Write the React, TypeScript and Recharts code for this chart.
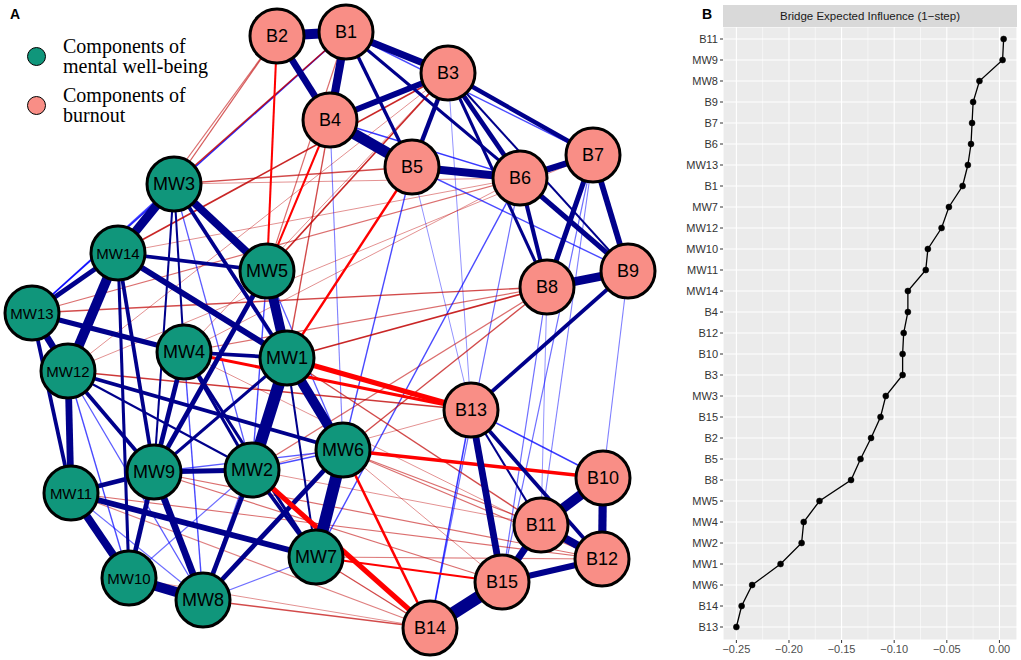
import React from 'react';
import {
  ComposedChart, Scatter, XAxis, YAxis, ReferenceLine, LineChart, Line, CartesianGrid,
} from 'recharts';

// ---------- Panel A: network layout (node coordinates from the layout) ----------
const nodeNames = ['B1','B2','B3','B4','B5','B6','B7','B8','B9','B10','B11','B12','B13','B14','B15',
  'MW1','MW2','MW3','MW4','MW5','MW6','MW7','MW8','MW9','MW10','MW11','MW12','MW13','MW14'];
const nodeLayoutX = [346,277,448,330,412,520,593,547,628,603,541,602,471,430,502,
  287,252,174,184,267,343,316,203,154,129,71,68,32,118];
const nodeLayoutY = [32,36,73,120,167,178,155,287,271,478,525,559,410,628,582,
  358,470,184,352,271,450,557,600,472,578,493,371,313,253];
const nodeGroup = nodeNames.map((n) => (n.startsWith('MW') ? 'wellbeing' : 'burnout'));

const edgeFrom = [
  'B1','B1','B2','B1','B1','B1','B1','B3','B3','B3','B3','B3','B3','B4','B4','B5','B5','B6','B6','B6','B7','B7','B8','B9',
  'B13','B13','B13','B13','B13','B10','B10','B11','B11','B12','B14','B3','B7','B7','B9','B8','B8','B6','B5',
  'MW3','MW3','MW3','MW3','MW3','MW3','MW3','MW3','MW14','MW14','MW14','MW14','MW14','MW14','MW13','MW13','MW13',
  'MW12','MW12','MW12','MW12','MW12','MW12','MW5','MW5','MW5','MW5','MW4','MW4','MW4','MW4','MW4','MW4',
  'MW1','MW1','MW1','MW1','MW1','MW6','MW6','MW6','MW6','MW2','MW2','MW2','MW9','MW9','MW9','MW11','MW11','MW10',
  'MW7','MW10','MW11',
  'MW13','B5','B6','B4',
  'MW1','MW4','MW12','MW6','MW2','MW6','MW7','MW5','MW1','MW3','MW14','MW3','MW14','MW3','MW5','MW5','MW5','MW1',
  'MW1','MW6','MW2','MW4','MW13','MW13','MW12','MW4','MW1','MW9','MW9','MW11','MW11','MW10','MW8','MW7','MW7','MW6',
  'MW6','MW2','MW4','MW6','MW3','MW14','MW4','MW12','MW2',
];
const edgeTo = [
  'B2','B4','B4','B3','B5','B6','B7','B4','B5','B6','B7','B8','B9','B5','B6','B6','B9','B7','B8','B9','B8','B9','B9','B13',
  'B15','B11','B12','B10','B14','B11','B12','B12','B15','B15','B15','B13','B11','B15','B10','B15','B11','B14','B13',
  'MW14','MW5','MW1','MW4','MW9','MW2','MW6','MW13','MW13','MW12','MW5','MW1','MW9','MW10','MW12','MW4','MW11',
  'MW11','MW9','MW6','MW2','MW10','MW8','MW1','MW9','MW2','MW6','MW1','MW9','MW2','MW7','MW10','MW8',
  'MW2','MW6','MW9','MW7','MW8','MW7','MW8','MW2','MW9','MW9','MW7','MW8','MW10','MW8','MW11','MW10','MW7','MW8',
  'MW8','MW2','MW8',
  'B1','MW6','MW7','MW6',
  'B13','B13','B13','B10','B14','B14','B15','B2','B5','B2','B2','B1','B3','B5','B3','B1','B4','B4',
  'B8','B8','B8','B8','B8','B6','B7','B6','B11','B15','B12','B14','B12','B14','B14','B12','B14','B12',
  'B11','B11','B12','B15','B6','B6','B3','B3','B13',
];
const edgeWeight = [
  0.29,0.24,0.20,0.20,0.10,0.09,0.04,0.17,0.13,0.14,0.13,0.09,0.06,0.32,0.045,0.23,0.04,0.18,0.12,0.15,0.15,0.17,0.26,0.11,
  0.20,0.06,0.11,0.045,0.045,0.29,0.24,0.23,0.21,0.18,0.37,0.02,0.025,0.03,0.025,0.03,0.02,0.03,0.02,
  0.26,0.23,0.11,0.06,0.06,0.035,0.03,0.04,0.14,0.29,0.11,0.17,0.11,0.09,0.20,0.15,0.11,
  0.20,0.11,0.11,0.06,0.04,0.035,0.29,0.14,0.04,0.035,0.11,0.14,0.09,0.09,0.04,0.04,
  0.35,0.29,0.09,0.06,0.03,0.35,0.14,0.04,0.035,0.14,0.11,0.14,0.14,0.20,0.14,0.23,0.17,0.29,
  0.03,0.03,0.03,
  0.05,0.04,0.04,0.025,
  -0.15,-0.09,-0.045,-0.10,-0.15,-0.075,-0.06,-0.06,-0.07,-0.035,-0.03,-0.05,-0.05,-0.04,-0.05,-0.03,-0.06,-0.04,
  -0.05,-0.04,-0.03,-0.03,-0.04,-0.03,-0.02,-0.02,-0.04,-0.03,-0.03,-0.025,-0.03,-0.02,-0.04,-0.025,-0.04,-0.03,
  -0.03,-0.02,-0.02,-0.02,-0.02,-0.02,-0.02,-0.02,-0.02,
];

// ---------- Panel B: bridge expected influence ----------
const bridgeNodes = ['B11','MW9','MW8','B9','B7','B6','MW13','B1','MW7','MW12','MW10','MW11','MW14','B4',
  'B12','B10','B3','MW3','B15','B2','B5','B8','MW5','MW4','MW2','MW1','MW6','B14','B13'];
const bridgeValues = [0.004,0.003,-0.019,-0.025,-0.026,-0.027,-0.030,-0.035,-0.048,-0.055,-0.068,-0.070,-0.087,-0.087,
  -0.091,-0.092,-0.092,-0.108,-0.113,-0.122,-0.132,-0.141,-0.171,-0.186,-0.188,-0.208,-0.235,-0.245,-0.250];
const xTicks = [-0.25, -0.2, -0.15, -0.1, -0.05, 0];
const xMinor = [-0.225, -0.175, -0.125, -0.075, -0.025];

const COLORS = { wellbeing: '#10967B', burnout: '#F98E86' };
const SANS = '"Liberation Sans", Arial, Helvetica, sans-serif';
const SERIF = '"Liberation Serif", "Times New Roman", serif';

const nodes = nodeNames.map((n, i) => ({ name: n, x: nodeLayoutX[i], y: nodeLayoutY[i], group: nodeGroup[i] }));
const nodeIndex: Record<string, number> = {};
nodeNames.forEach((n, i) => { nodeIndex[n] = i; });

const edges = edgeFrom
  .map((f, i) => ({ from: f, to: edgeTo[i], w: edgeWeight[i] }))
  .sort((a, b) => Math.abs(a.w) - Math.abs(b.w));

function edgeStyle(w: number) {
  const a = Math.abs(w);
  if (a >= 0.06) {
    return { stroke: w > 0 ? '#00008B' : '#FF0000', width: a * 34, opacity: 1 };
  }
  return { stroke: w > 0 ? '#0000FF' : '#BF0000', width: 0.6 + a * 20, opacity: Math.min(1, 0.15 + a * 14) };
}

const NodeShape = (props: any) => {
  const { cx, cy, payload } = props;
  if (cx == null || cy == null) return <g />;
  const label: string = payload.name;
  const fs = label.length >= 4 ? 15 : 18;
  return (
    <g>
      <circle cx={cx} cy={cy} r={27} fill={COLORS[payload.group as 'wellbeing' | 'burnout']} stroke="#000" strokeWidth={3} />
      <text x={cx} y={cy} textAnchor="middle" dominantBaseline="central" fontSize={fs} fontFamily={SANS} fill="#000">{label}</text>
    </g>
  );
};

function NetworkPanel() {
  return (
    <ComposedChart width={690} height={660} margin={{ top: 0, right: 0, bottom: 0, left: 0 }} data={nodes}>
      <XAxis type="number" dataKey="x" domain={[0, 690]} hide allowDataOverflow />
      <YAxis type="number" dataKey="y" domain={[0, 660]} reversed hide allowDataOverflow />
      {edges.map((e, i) => {
        const s = edgeStyle(e.w);
        const a = nodes[nodeIndex[e.from]];
        const b = nodes[nodeIndex[e.to]];
        return (
          <ReferenceLine
            key={'e' + i}
            segment={[{ x: a.x, y: a.y }, { x: b.x, y: b.y }]}
            stroke={s.stroke}
            strokeWidth={s.width}
            strokeOpacity={s.opacity}
            ifOverflow="visible"
          />
        );
      })}
      <Scatter data={nodes} dataKey="y" shape={NodeShape} isAnimationActive={false} />
    </ComposedChart>
  );
}

function BridgePanel() {
  const data = bridgeNodes.map((n, i) => ({ node: n, value: bridgeValues[i] }));
  return (
    <LineChart layout="vertical" width={341} height={660} data={data} margin={{ top: 27, right: 4, bottom: 0, left: 0 }}>
      <CartesianGrid fill="#EBEBEB" stroke="#FFFFFF" strokeWidth={1.1} />
      {xMinor.map((v) => (
        <ReferenceLine key={'m' + v} x={v} stroke="#FFFFFF" strokeWidth={0.55} />
      ))}
      <XAxis
        type="number"
        dataKey="value"
        domain={[-0.2627, 0.0167]}
        ticks={xTicks}
        allowDataOverflow
        height={20}
        tickSize={3}
        axisLine={false}
        tickLine={{ stroke: '#333333' }}
        tick={{ fontSize: 11, fill: '#4D4D4D', fontFamily: SANS }}
        tickFormatter={(v: number) => (v < 0 ? '\u2212' + Math.abs(v).toFixed(2) : v.toFixed(2))}
      />
      <YAxis
        type="category"
        dataKey="node"
        width={43}
        tickSize={3}
        interval={0}
        padding={{ top: 12, bottom: 13 }}
        axisLine={false}
        tickLine={{ stroke: '#333333' }}
        tick={{ fontSize: 11, fill: '#333333', fontFamily: SANS }}
      />
      <Line
        dataKey="value"
        stroke="#000000"
        strokeWidth={1.3}
        dot={{ r: 3, fill: '#000000', stroke: '#000000', strokeWidth: 0.5 }}
        isAnimationActive={false}
      />
    </LineChart>
  );
}

const legendLine = (top: number, text: string) => (
  <div style={{ position: 'absolute', left: 63, top, fontFamily: SERIF, fontSize: 20, lineHeight: '20px', height: 20, color: '#000', whiteSpace: 'nowrap' }}>
    {text}
  </div>
);

export default function App() {
  return (
    <div style={{ position: 'absolute', left: 0, top: 0, width: 1021, height: 660, background: '#fff', overflow: 'hidden' }}>
      <div style={{ position: 'absolute', left: 0, top: 0 }}>
        <NetworkPanel />
      </div>
      <div style={{ position: 'absolute', left: 680, top: 0 }}>
        <BridgePanel />
      </div>
      {/* facet strip */}
      <div style={{ position: 'absolute', left: 723, top: 5, width: 294, height: 22, background: '#D9D9D9',
        fontFamily: SANS, fontSize: 11.5, color: '#1A1A1A', textAlign: 'center', lineHeight: '22px' }}>
        Bridge Expected Influence (1{'\u2212'}step)
      </div>
      {/* panel letters */}
      <div style={{ position: 'absolute', left: 10, top: 6, fontFamily: SANS, fontWeight: 'bold', fontSize: 14 }}>A</div>
      <div style={{ position: 'absolute', left: 702, top: 6, fontFamily: SANS, fontWeight: 'bold', fontSize: 14 }}>B</div>
      {/* legend */}
      <div style={{ position: 'absolute', left: 27, top: 47, width: 17, height: 17, borderRadius: '50%', background: COLORS.wellbeing, border: '1.5px solid #000' }} />
      <div style={{ position: 'absolute', left: 27, top: 96, width: 17, height: 17, borderRadius: '50%', background: COLORS.burnout, border: '1.5px solid #000' }} />
      {legendLine(36, 'Components of')}
      {legendLine(56, 'mental well-being')}
      {legendLine(85, 'Components of')}
      {legendLine(105, 'burnout')}
    </div>
  );
}
